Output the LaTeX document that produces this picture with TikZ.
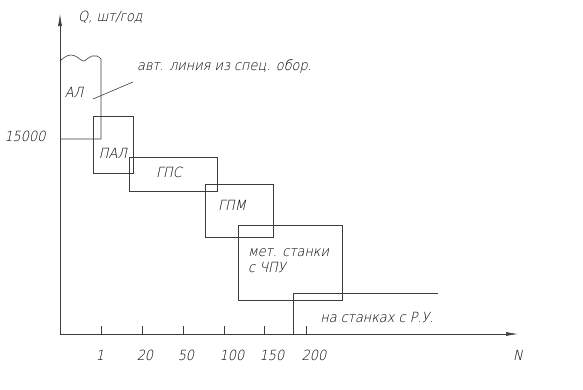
\documentclass[tikz,border=0pt]{standalone}
\usepackage{fontspec}
\IfFontExistsTF{DejaVu Sans ExtraLight}
  {\setmainfont{DejaVu Sans ExtraLight}[FakeSlant=0.22, FakeStretch=0.92]}
  {\setmainfont{DejaVu Sans}[FakeSlant=0.22, FakeStretch=0.92]}
\usepackage{tikz}
\usetikzlibrary{arrows.meta, positioning}
\definecolor{myline}{RGB}{60,60,60}
\tikzset{
  axis/.style={-{Latex[length=12pt, width=4pt]}, line width=0.6pt, color=myline},
  box/.style={line width=0.6pt, color=myline},
  lbl/.style={inner sep=0pt, font=\fontsize{14}{16}\selectfont},
  tick/.style={line width=0.6pt, color=myline}
}

\begin{document}
\begin{tikzpicture}[x=1pt, y=-1pt]
  \useasboundingbox (0,0) rectangle (583,389);
  % Axes
  \coordinate (o) at (60,334);
  \draw[axis] (o) -- (60,14);
  \draw[axis] (o) -- (518,334);
  \node[lbl, anchor=west] (qlab) at (78,17) {Q, шт/год};
  \node[lbl] (nlab) at (518,355) {N};
  \node[lbl] (q15) at (25,136) {15000};

  % Ticks on N axis
  \foreach \x/\lx/\lab in {101/100/1, 142/145/20, 183/186/50, 224/232/100, 264/272/150, 306/314/200}{
    \draw[tick] (\x,326) -- (\x,334);
    \node[lbl] (t\lab) at (\lx,355) {\lab};
  }

  % AL (wavy top)
  \draw[box] (60,61) plot[smooth, tension=0.7] coordinates {(60,61) (65,57) (71,55) (77,57) (83,61) (87,59) (92,56) (97,56) (101,59)}
    -- (101,139) -- (60,139);
  \node[lbl] (al) at (74,92) {АЛ};
  \node[lbl, anchor=west] (avt) at (137,67) {авт. линия из спец. обор.};
  \coordinate (alpt) at (93,99);
  \coordinate (avtpt) at (133,82);
  \draw[box] (alpt) -- (avtpt);

  % PAL, GPS, GPM
  \draw[box] (93,116) rectangle (133,173);
  \node[lbl] (pal) at (113,153) {ПАЛ};
  \draw[box] (129,157) rectangle (217,191);
  \node[lbl] (gps) at (169,172) {ГПС};
  \draw[box] (205,184) rectangle (273,237);
  \node[lbl] (gpm) at (232,205) {ГПМ};

  % CNC machines
  \draw[box] (238,225) rectangle (342,300);
  \node[lbl, anchor=west, align=left] (cnc) at (248,261) {мет. станки\\с ЧПУ};

  % universal machines
  \draw[box] (293,334) -- (293,293) -- (438,293);
  \node[lbl] (ru) at (377,317) {на станках с Р.У.};
\end{tikzpicture}
\end{document}
